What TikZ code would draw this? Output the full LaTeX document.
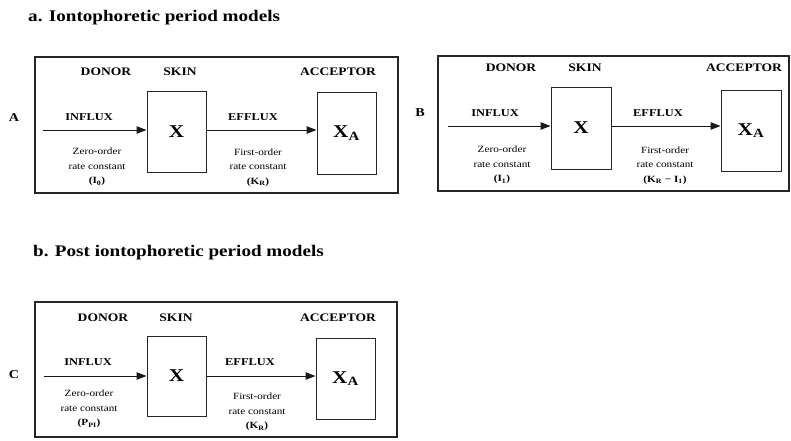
\documentclass[tikz,border=0pt]{standalone}
\usepackage{fontspec}
\setmainfont{Liberation Serif}[FakeStretch=1.18]
\usetikzlibrary{arrows.meta}
\tikzset{
  frame/.style={draw=black!85, line width=1.4pt},
  comp/.style={draw=black!85, line width=1pt, minimum width=59pt, minimum height=81pt, inner sep=0pt, font=\fontsize{18}{20}\selectfont\bfseries},
  head/.style={font=\fontsize{11.5}{13}\selectfont\bfseries, inner sep=0pt},
  flux/.style={font=\fontsize{10.5}{12}\selectfont\bfseries, inner sep=0pt},
  title/.style={font=\fontsize{16.2}{18}\selectfont\bfseries, inner sep=0pt, anchor=west},
  note/.style={font=\fontsize{9.5}{14.5}\selectfont, align=center, inner sep=0pt},
  flow/.style={draw=black!90, line width=1pt, -{Triangle[length=10pt,width=7.5pt]}},
  panel/.style={font=\fontsize{12}{14}\selectfont\bfseries, inner sep=0pt}
}
\begin{document}
\begin{tikzpicture}[x=1pt,y=-1pt]
\useasboundingbox (0,0) rectangle (791,440);
% titles
\node[title] (ta) at (28,18) {a. Iontophoretic period models};
\node[title] (tb) at (33,253) {b. Post iontophoretic period models};

% ---------- Panel A ----------
\node[frame, minimum width=363pt, minimum height=136pt, inner sep=0pt] (fA) at (216.5,125) {};
\node[panel] (lA) at (14,118) {A};
\node[head] (dA) at (106,72) {DONOR};
\node[head] (sA) at (180,72) {SKIN};
\node[head] (aA) at (338,72) {ACCEPTOR};
\node[comp] (xA) at (176.5,131.5) {X};
\node[comp, minimum height=82pt] (xaA) at (346.5,133) {X\textsubscript{A}};
\coordinate (iA) at (43,130);
\draw[flow] (iA) -- (xA.west |- iA);
\draw[flow] (xA.east |- iA) -- (xaA.west |- iA);
\node[flux] (inA) at (89,117) {INFLUX};
\node[flux] (efA) at (253,117) {EFFLUX};
\node[note] (zA) at (97,167) {Zero-order\\rate constant\\\textbf{(I\textsubscript{0})}};
\node[note] (fsA) at (258,167.5) {First-order\\rate constant\\\textbf{(K\textsubscript{R})}};

% ---------- Panel B ----------
\node[frame, minimum width=351pt, minimum height=135pt, inner sep=0pt] (fB) at (613.5,123.5) {};
\node[panel] (lB) at (420,113) {B};
\node[head] (dB) at (511,68) {DONOR};
\node[head] (sB) at (585,68) {SKIN};
\node[head] (aB) at (744,68) {ACCEPTOR};
\node[comp, minimum width=60pt, minimum height=82pt] (xB) at (581,128) {X};
\node[comp, minimum width=60pt] (xaB) at (751,130.5) {X\textsubscript{A}};
\coordinate (iB) at (448,126);
\draw[flow] (iB) -- (xB.west |- iB);
\draw[flow] (xB.east |- iB) -- (xaB.west |- iB);
\node[flux] (inB) at (495,113) {INFLUX};
\node[flux] (efB) at (658,113) {EFFLUX};
\node[note] (zB) at (502,165) {Zero-order\\rate constant\\\textbf{(I\textsubscript{1})}};
\node[note] (fsB) at (665,165.5) {First-order\\rate constant\\\textbf{(K\textsubscript{R} − I\textsubscript{1})}};

% ---------- Panel C ----------
\node[frame, minimum width=362pt, minimum height=135pt, inner sep=0pt] (fC) at (216,369.5) {};
\node[panel] (lC) at (14,375) {C};
\node[head] (dC) at (103,318) {DONOR};
\node[head] (sC) at (176,318) {SKIN};
\node[head] (aC) at (338,318) {ACCEPTOR};
\node[comp, minimum height=80pt] (xC) at (176.5,376) {X};
\node[comp] (xaC) at (345.5,378.5) {X\textsubscript{A}};
\coordinate (iC) at (44,376);
\draw[flow] (iC) -- (xC.west |- iC);
\draw[flow] (xC.east |- iC) -- (xaC.west |- iC);
\node[flux] (inC) at (88,362) {INFLUX};
\node[flux] (efC) at (250,362) {EFFLUX};
\node[note] (zC) at (89,409) {Zero-order\\rate constant\\\textbf{(P\textsubscript{PI})}};
\node[note] (fsC) at (257,412) {First-order\\rate constant\\\textbf{(K\textsubscript{R})}};
\end{tikzpicture}
\end{document}
